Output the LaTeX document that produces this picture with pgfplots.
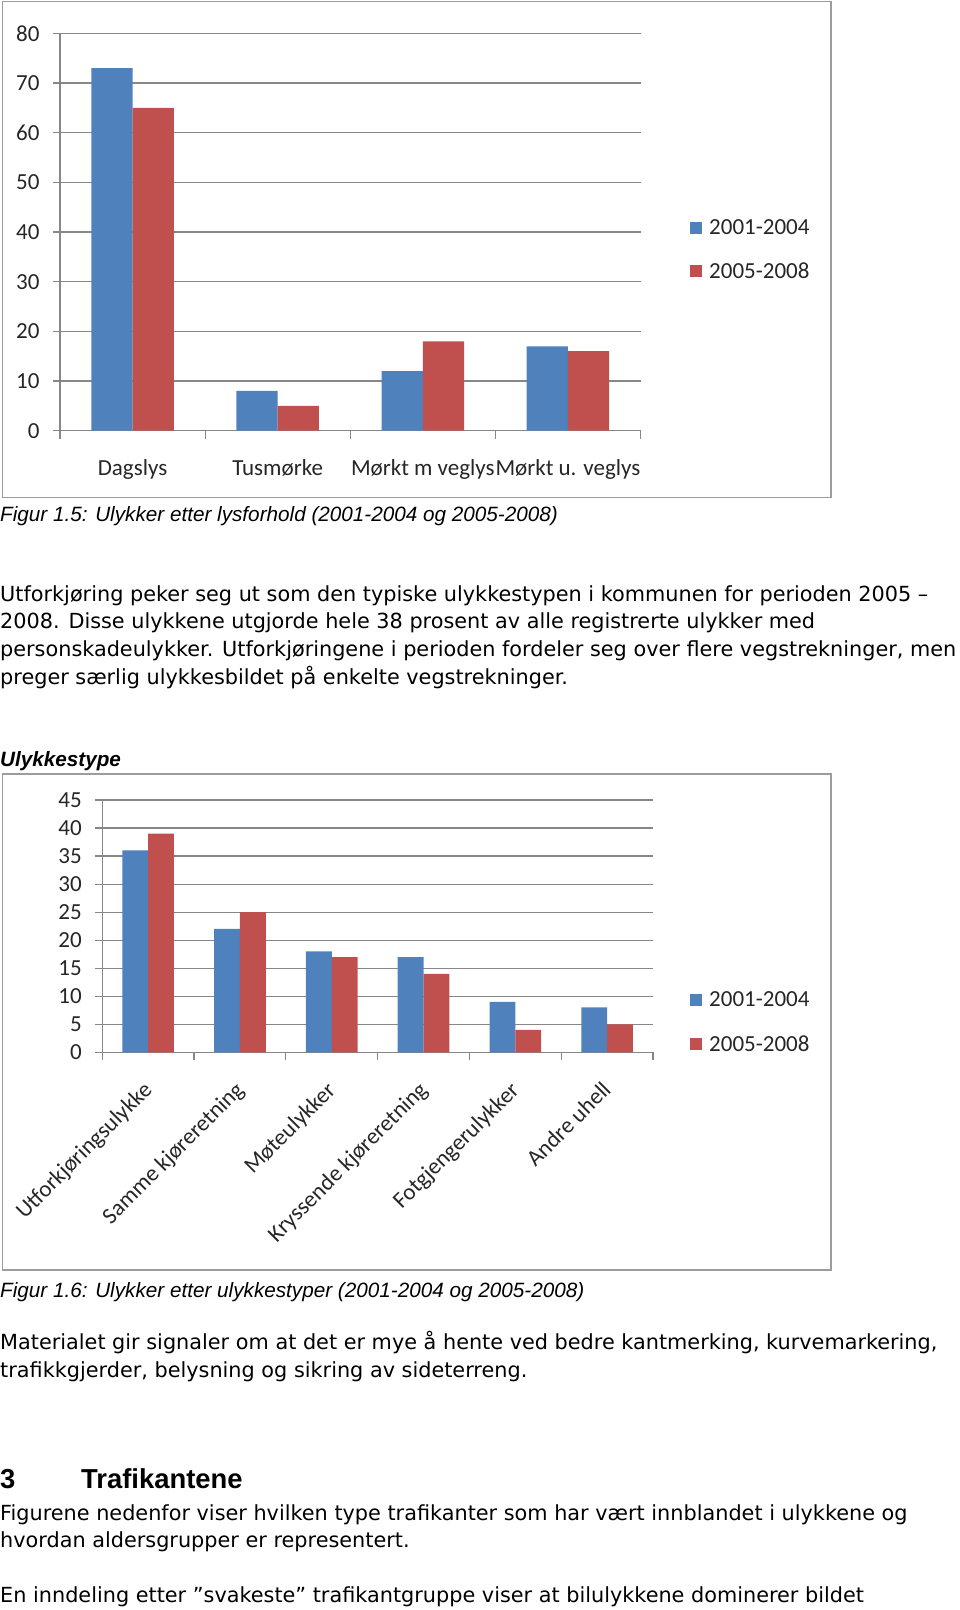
\documentclass[border=0pt]{standalone}
\usepackage{fontspec}
\setmainfont{DejaVu Sans}
\newfontfamily\calfont{Carlito}
\newfontfamily\arialfont{Liberation Sans}
\usepackage{pgfplots}
\pgfplotsset{compat=1.18}
\definecolor{sblue}{HTML}{4F81BD}
\definecolor{sred}{HTML}{C0504D}
\definecolor{gridgray}{HTML}{878787}
\definecolor{framegray}{HTML}{9C9C9C}
\pgfplotsset{excel/.style={
  scale only axis,
  ybar=0pt,
  ymin=0,
  axis x line*=bottom, axis y line*=left,
  axis line style={gridgray, line width=1.2pt},
  tick align=outside,
  major tick length=7pt,
  minor tick length=8pt,
  tick style={gridgray, line width=1.2pt},
  major x tick style={draw=none},
  ymajorgrids,
  major grid style={gridgray, line width=1.2pt},
  ticklabel style={font=\calfont\fontsize{23}{24}\selectfont, text=black!85},
  yticklabel style={xshift=-10pt},
  /pgf/number format/assume math mode=true,
  legend image code/.code={\fill[##1] (0pt,-6pt) rectangle (12pt,6pt);},
  legend style={draw=none, fill=none, inner sep=0pt, anchor=west,
    font=\calfont\fontsize{23}{24}\selectfont, text=black!85,
    row sep=27pt, nodes={inner sep=0pt}, column sep=7pt},
  legend cell align=left,
}}
\newcommand{\body}{\fontsize{20.8}{27.7}\selectfont}
\begin{document}
\begin{tikzpicture}
\path[use as bounding box] (0pt,0pt) rectangle (960pt,-1610pt);
% chart 1 frame
\draw[framegray, line width=1.5pt] (2.7pt,-1.7pt) rectangle (831pt,-497.5pt);
\begin{axis}[excel, at={(60pt,-430.7pt)}, anchor=south west,
  width=580.5pt, height=397.4pt,
  xmin=-0.5, xmax=3.5, ymax=80, ytick={0,10,...,80},
  xtick={0,1,2,3},
  xticklabels={Dagslys,Tusmørke,Mørkt m veglys,Mørkt u. veglys},
  minor xtick={-0.5,0.5,1.5,2.5,3.5},
  bar width=41.3pt,
  xticklabel style={anchor=north, inner sep=0pt, yshift=-22pt},
  legend style={at={(1.0853,0.4555)}}]
\addplot[fill=sblue, draw=none] coordinates {(0,73) (1,8) (2,12) (3,17)};
\addplot[fill=sred, draw=none] coordinates {(0,65) (1,5) (2,18) (3,16)};
\legend{2001-2004,2005-2008}
\end{axis}
% text
\node[anchor=base west, inner sep=0pt, font=\arialfont\itshape\fontsize{20.7}{24}\selectfont] at (0pt,-521pt) {Figur 1.5: Ulykker etter lysforhold (2001-2004 og 2005-2008)};
\node[anchor=base west, inner sep=0pt, font=\body] at (0pt,-601pt) {Utforkjøring peker seg ut som den typiske ulykkestypen i kommunen for perioden 2005 –};
\node[anchor=base west, inner sep=0pt, font=\body] at (0pt,-628.7pt) {2008. Disse ulykkene utgjorde hele 38 prosent av alle registrerte ulykker med};
\node[anchor=base west, inner sep=0pt, font=\body] at (0pt,-656.4pt) {personskadeulykker. Utforkjøringene i perioden fordeler seg over flere vegstrekninger, men};
\node[anchor=base west, inner sep=0pt, font=\body] at (0pt,-684.1pt) {preger særlig ulykkesbildet på enkelte vegstrekninger.};
\node[anchor=base west, inner sep=0pt, font=\arialfont\bfseries\itshape\fontsize{20.7}{24}\selectfont] at (0pt,-766pt) {Ulykkestype};
% chart 2 frame
\draw[framegray, line width=1.5pt] (2.7pt,-774pt) rectangle (831pt,-1270pt);
\begin{axis}[excel, at={(102.3pt,-1052.3pt)}, anchor=south west,
  width=550.7pt, height=252.3pt,
  xmin=-0.5, xmax=5.5, ymax=45, ytick={0,5,...,45},
  xtick={0,1,2,3,4,5},
  xticklabels={Utforkjøringsulykke,Samme kjøreretning,Møteulykker,Kryssende kjøreretning,Fotgjengerulykker,Andre uhell},
  minor xtick={-0.5,0.5,...,5.5},
  bar width=25.8pt,
  xticklabel style={rotate=45, anchor=north east, inner sep=0pt, xshift=-19pt, yshift=-10pt},
  legend style={at={(1.0672,0.119)}}]
\addplot[fill=sblue, draw=none] coordinates {(0,36) (1,22) (2,18) (3,17) (4,9) (5,8)};
\addplot[fill=sred, draw=none] coordinates {(0,39) (1,25) (2,17) (3,14) (4,4) (5,5)};
\legend{2001-2004,2005-2008}
\end{axis}
\node[anchor=base west, inner sep=0pt, font=\arialfont\itshape\fontsize{20.7}{24}\selectfont] at (0pt,-1297pt) {Figur 1.6: Ulykker etter ulykkestyper (2001-2004 og 2005-2008)};
\node[anchor=base west, inner sep=0pt, font=\body] at (0pt,-1349.5pt) {Materialet gir signaler om at det er mye å hente ved bedre kantmerking, kurvemarkering,};
\node[anchor=base west, inner sep=0pt, font=\body] at (0pt,-1377pt) {trafikkgjerder, belysning og sikring av sideterreng.};
\node[anchor=base west, inner sep=0pt, font=\arialfont\bfseries\fontsize{27.4}{30}\selectfont] at (0pt,-1488pt) {3};
\node[anchor=base west, inner sep=0pt, font=\arialfont\bfseries\fontsize{27.4}{30}\selectfont] at (81pt,-1488pt) {Trafikantene};
\node[anchor=base west, inner sep=0pt, font=\body] at (0pt,-1520pt) {Figurene nedenfor viser hvilken type trafikanter som har vært innblandet i ulykkene og};
\node[anchor=base west, inner sep=0pt, font=\body] at (0pt,-1547.5pt) {hvordan aldersgrupper er representert.};
\node[anchor=base west, inner sep=0pt, font=\body] at (0pt,-1602pt) {En inndeling etter ”svakeste” trafikantgruppe viser at bilulykkene dominerer bildet};
\end{tikzpicture}
\end{document}
